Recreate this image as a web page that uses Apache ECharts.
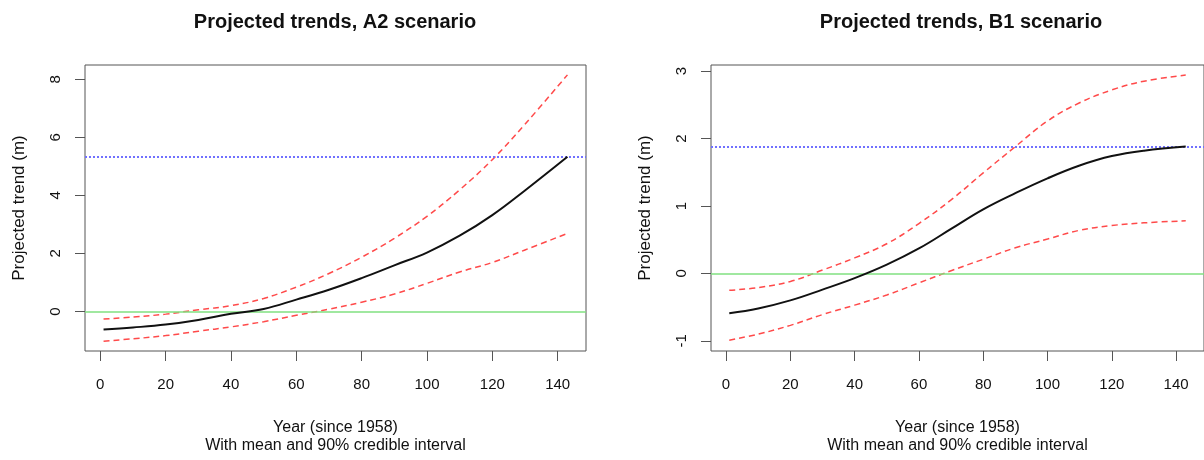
<!DOCTYPE html>
<html>
<head>
<meta charset="utf-8">
<title>Projected trends</title>
<script src="https://cdn.jsdelivr.net/npm/echarts@6/dist/echarts.min.js"></script>
<style>
  html, body { margin: 0; padding: 0; background: #fff; }
  #chart { width: 1204px; height: 460px; }
</style>
</head>
<body>
<div id="chart"></div>
<script>
const years = [1, 10, 20, 30, 40, 50, 60, 70, 80, 90, 100, 110, 120, 130, 143]

// A2 scenario
const a2Mean = [-0.62, -0.55, -0.45, -0.29, -0.08, 0.09, 0.41, 0.75, 1.15, 1.59, 2.03, 2.61, 3.32, 4.17, 5.33]
const a2Upper = [-0.26, -0.19, -0.09, 0.06, 0.20, 0.45, 0.84, 1.31, 1.87, 2.52, 3.28, 4.19, 5.23, 6.45, 8.15]
const a2Lower = [-1.02, -0.94, -0.83, -0.68, -0.53, -0.35, -0.13, 0.08, 0.32, 0.60, 0.97, 1.36, 1.69, 2.12, 2.69]
const a2Final = 5.33

// B1 scenario
const b1Mean = [-0.59, -0.52, -0.40, -0.24, -0.07, 0.13, 0.37, 0.66, 0.95, 1.19, 1.41, 1.60, 1.74, 1.82, 1.88]
const b1Upper = [-0.25, -0.21, -0.12, 0.05, 0.23, 0.44, 0.74, 1.09, 1.49, 1.88, 2.26, 2.53, 2.72, 2.85, 2.94]
const b1Lower = [-0.99, -0.90, -0.77, -0.61, -0.47, -0.32, -0.14, 0.04, 0.21, 0.38, 0.51, 0.64, 0.71, 0.75, 0.78]
const b1Final = 1.88

const zeroLine = 0

// tick labels
const xTicks = [0, 20, 40, 60, 80, 100, 120, 140]
const a2Ticks = [0, 2, 4, 6, 8]
const b1Ticks = [-1, 0, 1, 2, 3]

const titles = ['Projected trends, A2 scenario', 'Projected trends, B1 scenario']
const xName = 'Year (since 1958)\nWith mean and 90% credible interval'
const yName = 'Projected trend (m)'

const FONT = 'Liberation Sans, Arial, sans-serif'
const AXIS_COLOR = '#555'

function pairs(ys) {
  return years.map((x, i) => [x, ys[i]])
}

function xAxisOf(gridIndex) {
  return {
    type: 'value',
    gridIndex,
    min: -4.68,
    max: 148.68,
    axisLine: { show: false, onZero: false },
    splitLine: { show: false },
    axisTick: {
      show: true,
      inside: false,
      length: 10,
      customValues: xTicks,
      lineStyle: { color: AXIS_COLOR, width: 1 },
    },
    axisLabel: {
      customValues: xTicks,
      margin: 26,
      color: '#111',
      fontSize: 15,
      fontFamily: FONT,
    },
    name: xName,
    nameLocation: 'middle',
    nameGap: 68,
    nameTextStyle: {
      color: '#111',
      fontSize: 16,
      fontFamily: FONT,
      lineHeight: 18,
    },
  }
}

function yAxisOf(gridIndex, min, max, ticks) {
  return {
    type: 'value',
    gridIndex,
    min,
    max,
    axisLine: { show: false, onZero: false },
    splitLine: { show: false },
    axisTick: {
      show: true,
      inside: false,
      length: 10,
      customValues: ticks,
      lineStyle: { color: AXIS_COLOR, width: 1 },
    },
    axisLabel: {
      customValues: ticks,
      rotate: 90,
      margin: 22,
      color: '#111',
      fontSize: 15,
      fontFamily: FONT,
    },
    name: yName,
    nameLocation: 'middle',
    nameRotate: 90,
    nameGap: 57,
    nameTextStyle: {
      color: '#111',
      fontSize: 17,
      fontFamily: FONT,
    },
  }
}

function meanSeries(idx, ys, finalVal) {
  return {
    type: 'line',
    xAxisIndex: idx,
    yAxisIndex: idx,
    data: pairs(ys),
    smooth: 0.4,
    symbol: 'none',
    lineStyle: { color: '#111', width: 2 },
    z: 5,
    markLine: {
      silent: true,
      symbol: 'none',
      label: { show: false },
      animation: false,
      data: [
        { yAxis: zeroLine, lineStyle: { color: '#80e080', width: 1.5, type: 'solid' } },
        { yAxis: finalVal, lineStyle: { color: '#7070ff', width: 2, type: [2, 2] } },
      ],
    },
  }
}

function bandSeries(idx, ys) {
  return {
    type: 'line',
    xAxisIndex: idx,
    yAxisIndex: idx,
    data: pairs(ys),
    smooth: 0.4,
    symbol: 'none',
    lineStyle: { color: '#ff4a4a', width: 1.5, type: [6, 4] },
    z: 4,
  }
}

const chart = echarts.init(document.getElementById('chart'), null, { renderer: 'canvas' })

const option = {
  animation: false,
  backgroundColor: '#fff',
  title: [
    {
      text: titles[0],
      left: 335,
      top: 12,
      textAlign: 'center',
      padding: 0,
      textStyle: { fontSize: 20, fontWeight: 'bold', color: '#111', fontFamily: FONT },
    },
    {
      text: titles[1],
      left: 961,
      top: 12,
      textAlign: 'center',
      padding: 0,
      textStyle: { fontSize: 20, fontWeight: 'bold', color: '#111', fontFamily: FONT },
    },
  ],
  grid: [
    { left: 85, top: 65, width: 501, height: 289, show: true, borderColor: AXIS_COLOR, borderWidth: 1, backgroundColor: 'transparent' },
    { left: 711, top: 65, width: 501, height: 289, show: true, borderColor: AXIS_COLOR, borderWidth: 1, backgroundColor: 'transparent' },
  ],
  xAxis: [xAxisOf(0), xAxisOf(1)],
  yAxis: [yAxisOf(0, -1.36, 8.49, a2Ticks), yAxisOf(1, -1.15, 3.09, b1Ticks)],
  series: [
    bandSeries(0, a2Upper),
    bandSeries(0, a2Lower),
    meanSeries(0, a2Mean, a2Final),
    bandSeries(1, b1Upper),
    bandSeries(1, b1Lower),
    meanSeries(1, b1Mean, b1Final),
  ],
}

chart.setOption(option)
</script>
</body>
</html>
